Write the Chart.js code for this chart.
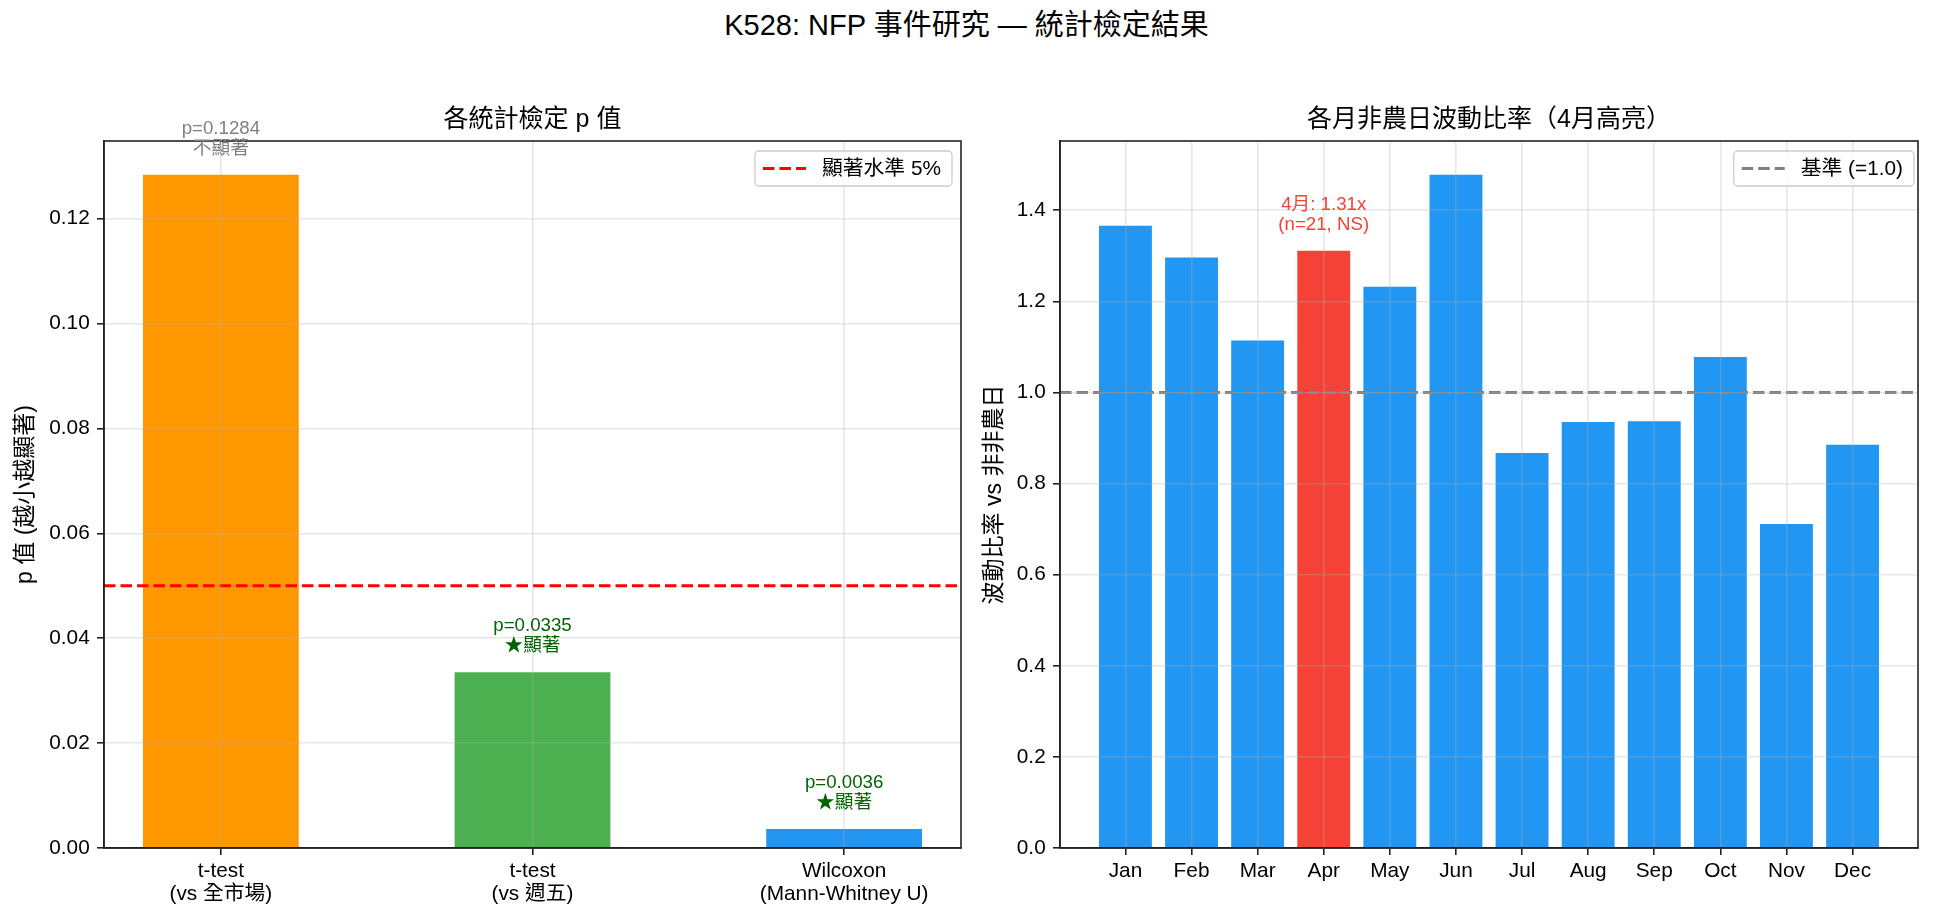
<!DOCTYPE html>
<html>
<head>
<meta charset="utf-8">
<script src="https://cdn.jsdelivr.net/npm/chart.js@4.4.1/dist/chart.umd.min.js"></script>
<style>
  html, body { margin: 0; padding: 0; background: #fff; }
  body { width: 1933px; height: 922px; position: relative; overflow: hidden;
         font-family: 'Liberation Sans', 'Noto Sans CJK TC', sans-serif; }
  #suptitle { position: absolute; left: 0; top: 8px; width: 1933px; text-align: center;
              font-size: 29px; line-height: 34px; color: #000; }
  #left { position: absolute; left: 0; top: 0; }
  #right { position: absolute; left: 966px; top: 0; }
</style>
</head>
<body>
<div id="suptitle">K528: NFP 事件研究 — 統計檢定結果</div>
<canvas id="left" width="966" height="922"></canvas>
<canvas id="right" width="967" height="922"></canvas>
<script>
// --- data ---
const testNames = ['t-test\n(vs 全市場)', 't-test\n(vs 週五)', 'Wilcoxon\n(Mann-Whitney U)'];
const pValues = [0.1284, 0.0335, 0.0036];
const testColors = ['#FF9800', '#4CAF50', '#2196F3'];
const sigLevel = 0.05;

const months = ['Jan', 'Feb', 'Mar', 'Apr', 'May', 'Jun', 'Jul', 'Aug', 'Sep', 'Oct', 'Nov', 'Dec'];
const volRatio = [1.366, 1.296, 1.114, 1.311, 1.232, 1.478, 0.867, 0.935, 0.937, 1.078, 0.711, 0.885];
const highlightIdx = 3;
const aprCount = 21;
const baseLevel = 1.0;

const FONT = "'Liberation Sans', 'Noto Sans CJK TC', sans-serif";
Chart.defaults.font.family = FONT;
Chart.defaults.color = '#000';
Chart.defaults.animation = false;

const GRID = 'rgba(176,176,176,0.3)';
const AXIS = '#222';

// matplotlib style x limits for bars of width w
const xPad = (n, w) => w / 2 + (n - 1 + w) * 0.05;

const xScale = (labels, w) => {
  const pad = xPad(labels.length, w);
  return {
    type: 'linear',
    min: -pad,
    max: labels.length - 1 + pad,
    offset: false,
    afterBuildTicks: s => { s.ticks = labels.map((_, i) => ({value: i})); },
    ticks: {
      callback: v => labels[v] ? labels[v].split('\n') : '',
      font: {size: 20.8, lineHeight: 1.07},
      color: '#000', padding: 5.5, maxRotation: 0, autoSkip: false
    },
    grid: {offset: false, color: GRID, lineWidth: 1.6, z: 1, tickLength: 7, tickColor: AXIS, tickWidth: 1.6},
    border: {color: AXIS, width: 1.6, z: 2},
    afterFit: s => { s.height = 74; }
  };
};

const yScale = (max, step, digits, title, width, titlePad) => ({
  min: 0,
  max: max,
  ticks: {
    stepSize: step, includeBounds: false,
    callback: v => v.toFixed(digits),
    font: {size: 20.8}, color: '#000', padding: 7.3
  },
  grid: {color: GRID, lineWidth: 1.6, z: 1, tickLength: 7, tickColor: AXIS, tickWidth: 1.6},
  border: {color: AXIS, width: 1.6, z: 2},
  title: {display: true, text: title, font: {size: 23}, color: '#000', padding: {top: titlePad, bottom: 0}},
  afterFit: s => { s.width = width; }
});

const frame = {
  id: 'frame',
  afterDraw(chart) {
    const {ctx, chartArea: a} = chart;
    ctx.save();
    ctx.strokeStyle = AXIS;
    ctx.lineWidth = 1.6;
    ctx.strokeRect(a.left, a.top, a.right - a.left, a.bottom - a.top);
    ctx.restore();
  }
};

const barNotes = {
  id: 'barNotes',
  afterDraw(chart, args, opts) {
    const {ctx} = chart;
    const bars = chart.getDatasetMeta(0).data;
    ctx.save();
    ctx.font = `${opts.size}px ${FONT}`;
    ctx.textAlign = 'center';
    ctx.textBaseline = 'middle';
    opts.notes.forEach((lines, i) => {
      if (!lines) return;
      ctx.fillStyle = opts.colors[i];
      lines.forEach((t, k) => {
        ctx.fillText(t, bars[i].x, bars[i].y - opts.gap - (lines.length - 1 - k) * opts.lineGap);
      });
    });
    ctx.restore();
  }
};

const boxLegend = {
  id: 'boxLegend',
  afterDraw(chart, args, opts) {
    const ds = chart.data.datasets.find(d => d.type === 'line');
    const {ctx, chartArea} = chart;
    ctx.save();
    ctx.font = `${opts.size}px ${FONT}`;
    const tw = ctx.measureText(ds.label).width;
    const w = 67 + tw + 11, h = 35;
    const x0 = chartArea.right - opts.right - w, y0 = chartArea.top + 10;
    ctx.beginPath();
    ctx.roundRect(x0, y0, w, h, 4);
    ctx.fillStyle = 'rgba(255,255,255,0.8)';
    ctx.fill();
    ctx.strokeStyle = '#cccccc';
    ctx.lineWidth = 1.3;
    ctx.stroke();
    ctx.beginPath();
    ctx.setLineDash(ds.borderDash);
    ctx.moveTo(x0 + 8, y0 + h / 2);
    ctx.lineTo(x0 + 51, y0 + h / 2);
    ctx.strokeStyle = ds.borderColor;
    ctx.lineWidth = ds.borderWidth;
    ctx.stroke();
    ctx.setLineDash([]);
    ctx.fillStyle = '#000';
    ctx.textBaseline = 'middle';
    ctx.fillText(ds.label, x0 + 67, y0 + h / 2 + 1);
    ctx.restore();
  }
};

const titleOpts = text => ({
  display: true, text: text, fullSize: false, color: '#000',
  font: {size: 25, weight: 'normal'},
  padding: {top: 105, bottom: 6}
});

// --- left: p values ---
const pPad = xPad(testNames.length, 0.5);
new Chart(document.getElementById('left'), {
  type: 'bar',
  data: {
    datasets: [{
      type: 'bar',
      data: pValues.map((v, i) => ({x: i, y: v})),
      backgroundColor: testColors,
      borderWidth: 0,
      barPercentage: 0.5,
      categoryPercentage: 1,
      order: 1
    }, {
      type: 'line',
      label: '顯著水準 5%',
      data: [{x: -pPad, y: sigLevel}, {x: testNames.length - 1 + pPad, y: sigLevel}],
      borderColor: '#ff0000',
      borderWidth: 3,
      borderDash: [11.5, 5],
      pointRadius: 0,
      order: 0
    }]
  },
  options: {
    responsive: false,
    devicePixelRatio: 1,
    layout: {padding: {left: 0, right: 5, top: 0, bottom: 0}},
    scales: {
      x: xScale(testNames, 0.5),
      y: yScale(Math.max(...pValues) * 1.05, 0.02, 2, 'p 值 (越小越顯著)', 104, 12.2)
    },
    plugins: {
      legend: {display: false},
      tooltip: {enabled: false},
      title: titleOpts('各統計檢定 p 值'),
      barNotes: {
        size: 18.7, gap: 26, lineGap: 20,
        notes: pValues.map(p => ['p=' + p.toFixed(4), p < sigLevel ? '★顯著' : '不顯著']),
        colors: pValues.map(p => p < sigLevel ? '#006400' : '#808080')
      },
      boxLegend: {size: 20.8, right: 9}
    }
  },
  plugins: [frame, barNotes, boxLegend]
});

// --- right: monthly ratio ---
const mPad = xPad(months.length, 0.8);
new Chart(document.getElementById('right'), {
  type: 'bar',
  data: {
    datasets: [{
      type: 'bar',
      data: volRatio.map((v, i) => ({x: i, y: v})),
      backgroundColor: volRatio.map((_, i) => i === highlightIdx ? '#F44336' : '#2196F3'),
      borderWidth: 0,
      barPercentage: 0.8,
      categoryPercentage: 1,
      order: 1
    }, {
      type: 'line',
      label: '基準 (=1.0)',
      data: [{x: -mPad, y: baseLevel}, {x: months.length - 1 + mPad, y: baseLevel}],
      borderColor: '#808080',
      borderWidth: 3,
      borderDash: [11.5, 5],
      pointRadius: 0,
      order: 0
    }]
  },
  options: {
    responsive: false,
    devicePixelRatio: 1,
    layout: {padding: {left: 0, right: 15, top: 0, bottom: 0}},
    scales: {
      x: xScale(months, 0.8),
      y: yScale(Math.max(...volRatio) * 1.05, 0.2, 1, '波動比率 vs 非非農日', 94, 15.2)
    },
    plugins: {
      legend: {display: false},
      tooltip: {enabled: false},
      title: titleOpts('各月非農日波動比率（4月高亮）'),
      barNotes: {
        size: 18.7, gap: 26, lineGap: 20,
        notes: volRatio.map((v, i) => i === highlightIdx
          ? [(i + 1) + '月: ' + v.toFixed(2) + 'x', '(n=' + aprCount + ', NS)'] : null),
        colors: volRatio.map(() => '#F44336')
      },
      boxLegend: {size: 20.8, right: 4}
    }
  },
  plugins: [frame, barNotes, boxLegend]
});
</script>
</body>
</html>
